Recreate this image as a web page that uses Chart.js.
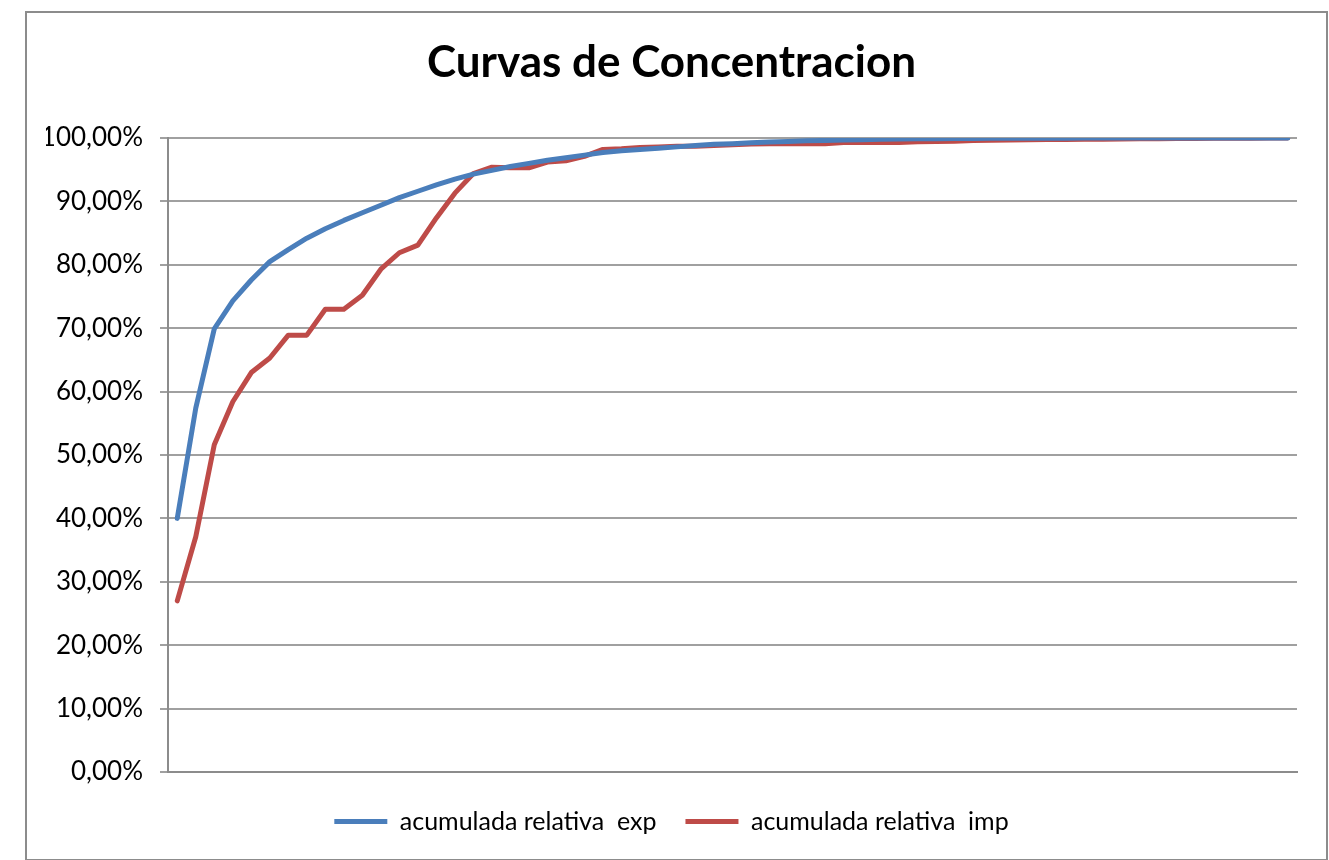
<!DOCTYPE html>
<html>
<head>
<meta charset="utf-8">
<script src="https://cdn.jsdelivr.net/npm/chart.js@4"></script>
<style>
  body { margin: 0; background: #fff; }
  #wrap { width: 1329px; height: 860px; }
</style>
</head>
<body>
<div id="wrap"><canvas id="curvasChart" width="1329" height="860"></canvas></div>
<script>
// cumulative relative share, 61 items (in %)
const categories = Array.from({ length: 61 }, (_, i) => String(i + 1));

const acumExp = [
  40.0, 57.4, 69.9, 74.3, 77.6, 80.5, 82.4, 84.2, 85.7, 87.0,
  88.2, 89.4, 90.6, 91.6, 92.6, 93.5, 94.3, 94.9, 95.5, 96.0,
  96.5, 96.9, 97.3, 97.7, 98.0, 98.2, 98.4, 98.6, 98.8, 99.0,
  99.1, 99.25, 99.35, 99.45, 99.55, 99.62, 99.68, 99.74, 99.8, 99.84,
  99.88, 99.9, 99.92, 99.94, 99.95, 99.96, 99.97, 99.98, 99.98, 99.99,
  99.99, 100, 100, 100, 100, 100, 100, 100, 100, 100, 100
];

const acumImp = [
  27.0, 37.1, 51.6, 58.4, 63.0, 65.3, 68.9, 68.9, 73.0, 73.0,
  75.2, 79.3, 81.9, 83.1, 87.4, 91.3, 94.4, 95.4, 95.3, 95.3,
  96.2, 96.4, 97.1, 98.2, 98.3, 98.5, 98.6, 98.7, 98.7, 98.8,
  98.95, 99.05, 99.1, 99.1, 99.1, 99.1, 99.3, 99.3, 99.3, 99.3,
  99.4, 99.45, 99.5, 99.6, 99.65, 99.7, 99.72, 99.75, 99.78, 99.8,
  99.82, 99.85, 99.87, 99.9, 99.92, 99.94, 99.95, 99.97, 99.98, 99.99, 100
];

const seriesNames = ['acumulada relativa  exp', 'acumulada relativa  imp'];
const yTicks = [0, 10, 20, 30, 40, 50, 60, 70, 80, 90, 100];

const fmtPct = v => v.toFixed(2).replace('.', ',') + '%';

// white page + gray outer frame like the excel chart box
const framePlugin = {
  id: 'frame',
  beforeDraw(chart) {
    const ctx = chart.ctx;
    ctx.save();
    ctx.fillStyle = '#fff';
    ctx.fillRect(0, 0, chart.width, chart.height);
    ctx.strokeStyle = '#8c8c8c';
    ctx.lineWidth = 2;
    ctx.strokeRect(26, 12, 1301, 848);
    ctx.restore();
  }
};

const padLeft = 46;

new Chart(document.getElementById('curvasChart'), {
  type: 'line',
  data: {
    labels: categories,
    datasets: [
      { label: seriesNames[0], data: acumExp, borderColor: '#4a7ebb', backgroundColor: '#4a7ebb',
        borderWidth: 5, pointRadius: 0, tension: 0, borderCapStyle: 'round', borderJoinStyle: 'round' },
      { label: seriesNames[1], data: acumImp, borderColor: '#be4b48', backgroundColor: '#be4b48',
        borderWidth: 5, pointRadius: 0, tension: 0, borderCapStyle: 'round', borderJoinStyle: 'round' },
    ],
  },
  options: {
    responsive: false,
    animation: false,
    layout: { padding: { top: 11, left: padLeft, right: 32, bottom: 16 } },
    plugins: {
      title: {
        display: true, text: 'Curvas de Concentracion', color: '#000',
        font: { family: 'Lato', size: 44, weight: 'bold' },
        padding: { top: 25.6, bottom: 48.6 },
      },
      legend: {
        position: 'bottom',
        labels: {
          color: '#000', font: { family: 'Lato', size: 25 }, padding: 29,
          usePointStyle: true, pointStyle: 'line', pointStyleWidth: 53,
        },
      },
      tooltip: { enabled: false },
    },
    scales: {
      x: {
        offset: true,
        grid: { display: false },
        ticks: { display: false },
        border: { display: true, color: '#8c8c8c', width: 2 },
      },
      y: {
        min: 0, max: 100,
        afterFit: s => { s.width = 168 - padLeft; },
        afterBuildTicks: s => { s.ticks = yTicks.map(v => ({ value: v })); },
        grid: { color: '#a0a0a0', lineWidth: 2, tickLength: 8 },
        border: { color: '#8c8c8c', width: 2 },
        ticks: { color: '#000', font: { family: 'Lato', size: 26 }, padding: 17, callback: v => fmtPct(v) },
      },
    },
  },
  plugins: [framePlugin],
});
</script>
</body>
</html>
